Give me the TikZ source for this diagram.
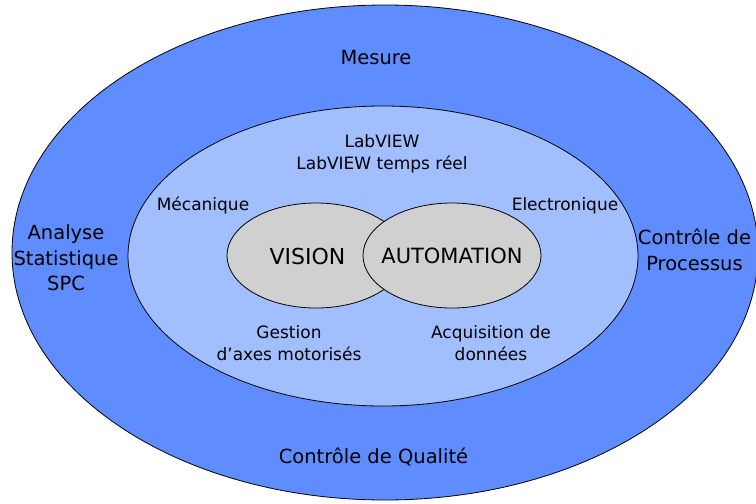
\documentclass[tikz,border=0pt]{standalone}
\usepackage{fontspec}
\setmainfont{DejaVu Sans}
\usepackage{tikz}
\usetikzlibrary{shapes.geometric}
\definecolor{bleuFonce}{RGB}{95,141,255}
\definecolor{bleuClair}{RGB}{161,190,255}
\definecolor{grisCentre}{RGB}{208,208,208}
\def \grandTexte {\fontsize{19.5}{25.5}\selectfont}
\def \petitTexte {\fontsize{17}{22}\selectfont}

\begin{document}
\begin{tikzpicture}[x=1pt,y=-1pt,line width=.8pt,
  anneau/.style={ellipse,draw,inner sep=0pt},
  grand/.style={font=\grandTexte,align=center,inner sep=0pt},
  petit/.style={font=\petitTexte,align=center,inner sep=0pt}]
  \useasboundingbox (0,0) rectangle (756,504);
  % anneaux et noyau
  \draw (385,252.5) node[anneau,fill=bleuFonce,minimum width=746pt,minimum height=495pt] (exterieur) {}
  (383,256) node[anneau,fill=bleuClair,minimum width=510pt,minimum height=300pt] (interieur) {}
  (316,255.5) node[anneau,fill=grisCentre,minimum width=178pt,minimum height=105pt] (vision) {}
  (452,255.5) node[anneau,fill=grisCentre,minimum width=178pt,minimum height=105pt] (automation) {}
  ;
  \draw (307.5,264) node[anchor=base,font=\fontsize{22}{26}\selectfont] (texteVision) {VISION}
  (452,263.5) node[anchor=base,font=\fontsize{21}{25}\selectfont] (texteAutomation) {AUTOMATION}
  ;
  % anneau exterieur
  \draw (376,64) node[grand,anchor=base] (mesure) {Mesure}
  (66,258.1) node[grand] (analyse) {Analyse\\Statistique\\SPC}
  (694.5,250) node[grand] (processus) {Contr\^ole de\\Processus}
  (373.5,463) node[grand,anchor=base] (qualite) {Contr\^ole de Qualit\'e}
  ;
  % anneau interieur
  \draw (382,154.3) node[petit] (labview) {LabVIEW\\LabVIEW temps r\'eel}
  (203,210) node[petit,anchor=base] (mecanique) {M\'ecanique}
  (565,210) node[petit,anchor=base] (electronique) {Electronique}
  (289,343.3) node[petit,font=\fontsize{17}{21.5}\selectfont] (gestion) {Gestion\\d’axes motoris\'es}
  (491,343.3) node[petit,font=\fontsize{17}{21.5}\selectfont] (acquisition) {Acquisition de\\donn\'ees}
  ;
\end{tikzpicture}
\end{document}
